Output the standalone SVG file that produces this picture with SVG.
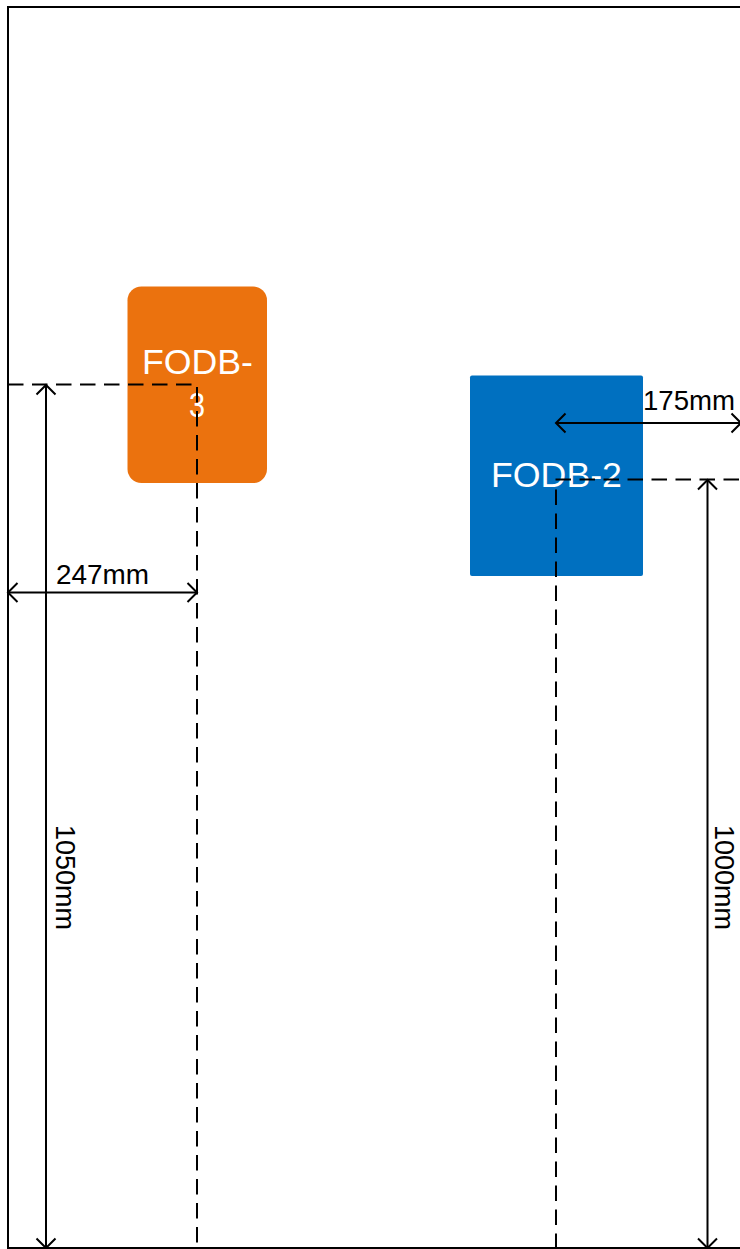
<svg xmlns="http://www.w3.org/2000/svg" width="740" height="1249" viewBox="0 0 740 1249">
<style>
text{font-family:"Liberation Sans",Arial,sans-serif;font-size:28px;fill:#000}
.w{fill:#fff;font-size:35px}
.l{fill:none;stroke:#000;stroke-width:2}
.d{fill:none;stroke:#000;stroke-width:2;stroke-dasharray:15.500 8.500}
</style>
<defs>
<marker id="a" viewBox="-11 -11 22 22" markerWidth="22" markerHeight="22" markerUnits="userSpaceOnUse" orient="auto-start-reverse" refX="0" refY="0"><path d="M-9.500-9.500L0 0L-9.500 9.500" fill="none" stroke="#000" stroke-width="2"/></marker>
</defs>
<rect width="740" height="1249" fill="#fff"/>
<path id="frame" class="l" d="M741 7H8V1248H741"/>
<g id="fodb-3"><rect x="127.500" y="286.500" width="139.500" height="196.500" rx="14" fill="#eb720e"/><text class="w" x="142" y="374" textLength="111" lengthAdjust="spacingAndGlyphs">FODB-</text><text class="w" x="197" y="417" text-anchor="middle" textLength="16" lengthAdjust="spacingAndGlyphs">3</text></g>
<g id="fodb-2"><rect x="470" y="375.500" width="173" height="200.500" rx="2" fill="#0070c0"/><text class="w" x="491" y="487" textLength="131" lengthAdjust="spacingAndGlyphs">FODB-2</text></g>
<g id="connectors">
<path class="d" d="M8 384.500H192M197 387V1243M555.500 479.500H741M556 489.500V1248"/>
<path class="l" marker-start="url(#a)" marker-end="url(#a)" d="M46 385V1248"/>
<path class="l" marker-start="url(#a)" marker-end="url(#a)" d="M8 592.500H197"/>
<path class="l" marker-start="url(#a)" marker-end="url(#a)" d="M556 423H741"/>
<path class="l" marker-start="url(#a)" marker-end="url(#a)" d="M707.500 480V1248"/>
</g>
<g id="labels">
<text x="56" y="584" textLength="93" lengthAdjust="spacingAndGlyphs">247mm</text>
<text x="643" y="410" textLength="92" lengthAdjust="spacingAndGlyphs">175mm</text>
<text transform="translate(56 825) rotate(90)" textLength="105" lengthAdjust="spacingAndGlyphs">1050mm</text>
<text transform="translate(715 825) rotate(90)" textLength="105" lengthAdjust="spacingAndGlyphs">1000mm</text>
</g>
</svg>
